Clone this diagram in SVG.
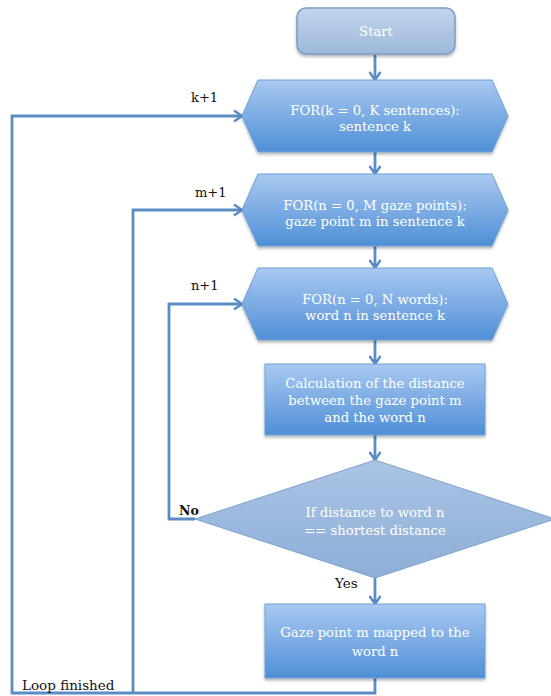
<svg xmlns="http://www.w3.org/2000/svg" width="551" height="696" viewBox="0 0 551 696">
<style>
.node text{font-family:"DejaVu Serif","Liberation Serif",serif;font-size:13.2px;fill:#ffffff;text-anchor:middle}
.lbl{font-family:"DejaVu Serif","Liberation Serif",serif;font-size:13px;fill:#111111}
.hex{fill:url(#gBlue);stroke:#6e9fd8;stroke-width:1}
.box{fill:url(#gBlue);stroke:#6e9fd8;stroke-width:1}
.conn path{fill:none;stroke:#5b8cc4;stroke-width:2.8}
</style>
<defs>
<linearGradient id="gBlue" x1="0" y1="0" x2="0" y2="1">
<stop offset="0" stop-color="#a9c9f1"/>
<stop offset="1" stop-color="#4f8fd6"/>
</linearGradient>
<linearGradient id="gStart" x1="0" y1="0" x2="0" y2="1">
<stop offset="0" stop-color="#c3d5eb"/>
<stop offset="1" stop-color="#9db8da"/>
</linearGradient>
<linearGradient id="gDia" x1="0" y1="0" x2="0" y2="1">
<stop offset="0" stop-color="#aac4e4"/>
<stop offset="1" stop-color="#8eaed7"/>
</linearGradient>
<filter id="sh" x="-10%" y="-10%" width="120%" height="130%">
<feDropShadow dx="0" dy="2" stdDeviation="1.5" flood-color="#000000" flood-opacity="0.3"/>
</filter>
<marker id="arr" markerUnits="userSpaceOnUse" markerWidth="14" markerHeight="14" viewBox="0 0 14 14" refX="11" refY="7" orient="auto">
<path d="M3,1.5 L11,7 L3,12.5" fill="none" stroke="#5b8cc4" stroke-width="2.5"/>
</marker>
</defs>

<g class="conn" id="connectors">
<path d="M375,55 V80" marker-end="url(#arr)"/>
<path d="M375,152 V174" marker-end="url(#arr)"/>
<path d="M375,246 V268" marker-end="url(#arr)"/>
<path d="M375,340 V364" marker-end="url(#arr)"/>
<path d="M375,435 V460" marker-end="url(#arr)"/>
<path d="M375,578 V604" marker-end="url(#arr)"/>
<path d="M195,519 H169 V304 H242" marker-end="url(#arr)"/>
<path d="M375,678 V693 H12 V116 H242" marker-end="url(#arr)"/>
<path d="M133,693 V210 H242" marker-end="url(#arr)"/>
</g>

<g class="node" id="start">
<rect x="297" y="8" width="158" height="46" rx="9" fill="url(#gStart)" stroke="#7b9cc6" stroke-width="1.5" filter="url(#sh)"/>
<text x="376" y="36">Start</text>
</g>

<g class="node" id="loop_k">
<polygon class="hex" points="242,116 258,80 492,80 508,116 492,152 258,152" filter="url(#sh)"/>
<text x="375" y="115">FOR(k = 0, K sentences):</text>
<text x="375" y="131">sentence k</text>
</g>

<g class="node" id="loop_m">
<polygon class="hex" points="242,210 258,174 492,174 508,210 492,246 258,246" filter="url(#sh)"/>
<text x="375" y="210">FOR(n = 0, M gaze points):</text>
<text x="375" y="226">gaze point m in sentence k</text>
</g>

<g class="node" id="loop_n">
<polygon class="hex" points="242,304 258,268 492,268 508,304 492,340 258,340" filter="url(#sh)"/>
<text x="375" y="304">FOR(n = 0, N words):</text>
<text x="375" y="320">word n in sentence k</text>
</g>

<g class="node" id="calc">
<rect class="box" x="265" y="364" width="220" height="71" filter="url(#sh)"/>
<text x="375" y="388">Calculation of the distance</text>
<text x="375" y="405">between the gaze point m</text>
<text x="375" y="422">and the word n</text>
</g>

<g class="node" id="decision">
<polygon points="375,460 555,519 375,578 195,519" fill="url(#gDia)" stroke="#7ea1cc" stroke-width="1"/>
<text x="375" y="517">If distance to word n</text>
<text x="375" y="535">== shortest distance</text>
</g>

<g class="node" id="mapped">
<rect class="box" x="265" y="604" width="220" height="74" filter="url(#sh)"/>
<text x="375" y="637">Gaze point m mapped to the</text>
<text x="375" y="656">word n</text>
</g>

<g id="labels">
<text class="lbl" x="191" y="102">k+1</text>
<text class="lbl" x="195" y="197">m+1</text>
<text class="lbl" x="191" y="290">n+1</text>
<text class="lbl" x="179" y="515" style="font-weight:bold;font-size:12.5px">No</text>
<text class="lbl" x="335" y="588" style="font-size:13.5px">Yes</text>
<text class="lbl" x="22" y="690" style="font-size:13.5px">Loop finished</text>
</g>
</svg>
